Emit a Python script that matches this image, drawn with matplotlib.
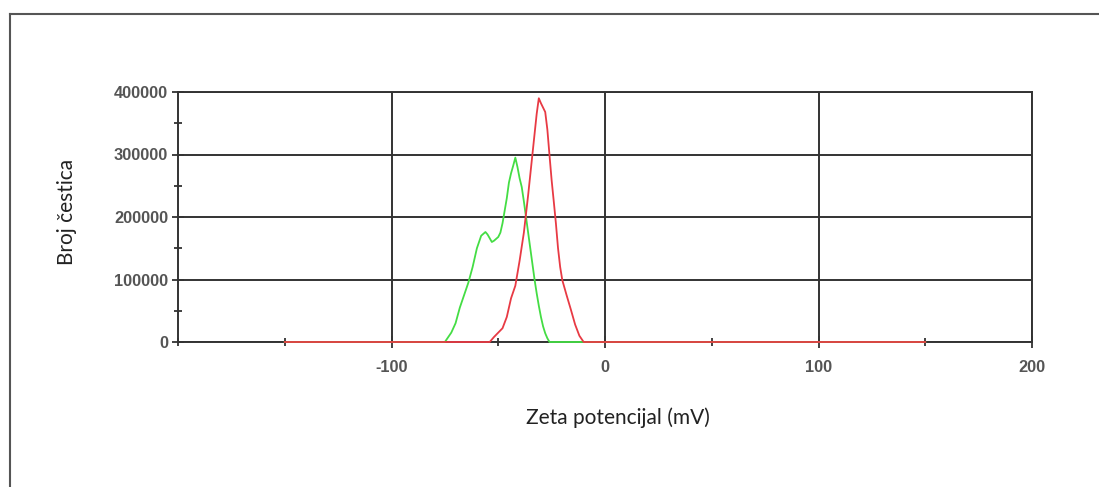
import matplotlib.pyplot as plt
from matplotlib.ticker import MultipleLocator, FixedLocator
from matplotlib.lines import Line2D

plt.rcParams['font.family'] = ['Liberation Sans', 'DejaVu Sans']

# zeta potential distributions (mV vs particle count)
red_x = [-150, -54, -53, -52, -50, -48, -46, -44, -42, -40, -38, -36, -34, -32,
         -31, -30, -28, -27, -26, -25, -24, -23, -22, -21, -20, -18, -16, -14,
         -12, -10, 150]
red_y = [0, 0, 4000, 8000, 15000, 22000, 40000, 70000, 90000, 130000, 175000,
         235000, 300000, 365000, 390000, 382000, 368000, 340000, 299000, 259000,
         225000, 190000, 150000, 120000, 99000, 75000, 52000, 28000, 10000, 0, 0]

green_x = [-150, -75, -72, -70, -68, -66, -64, -62, -60, -58, -56, -55, -54, -53,
           -52, -50, -49, -48, -46, -45, -44, -43, -42, -41, -40, -39, -38, -37,
           -36, -35, -34, -33, -32, -31, -30, -29, -28, -27, -26, 150]
green_y = [0, 0, 15000, 30000, 55000, 75000, 95000, 120000, 150000, 170000,
           176000, 172000, 166000, 160000, 162000, 168000, 175000, 190000, 230000,
           255000, 270000, 282000, 295000, 280000, 262000, 248000, 225000, 200000,
           175000, 150000, 125000, 100000, 78000, 58000, 40000, 25000, 14000, 6000,
           0, 0]

x_ticks = [-100, 0, 100, 200]
y_ticks = [0, 100000, 200000, 300000, 400000]

fig = plt.figure(figsize=(10.99, 4.87), dpi=100)
ax = fig.add_axes([178/1099, 1 - 342/487, 854/1099, 250/487])

ax.plot(green_x, green_y, color='#44dd44', lw=1.3, zorder=5, clip_on=False)
ax.plot(red_x, red_y, color='#e83a44', lw=1.3, zorder=6, clip_on=False)

ax.set_xlim(-200, 200)
ax.set_ylim(0, 400000)
ax.xaxis.set_major_locator(FixedLocator(x_ticks))
ax.yaxis.set_major_locator(FixedLocator(y_ticks))
ax.xaxis.set_minor_locator(MultipleLocator(50))
ax.yaxis.set_minor_locator(MultipleLocator(50000))
ax.set_xticklabels([str(t) for t in x_ticks], fontweight='bold')
ax.set_yticklabels([str(t) for t in y_ticks], fontweight='bold')

ax.grid(True, which='major', color='#333333', lw=1.4, zorder=1)
for s in ax.spines.values():
    s.set_color('#333333')
    s.set_linewidth(1.4)
ax.tick_params(which='both', direction='inout', color='#333333', width=1.3)
ax.tick_params(which='major', length=8, labelsize=11.8, labelcolor='#555555')
ax.tick_params(axis='x', which='major', pad=9)
ax.tick_params(axis='y', which='major', pad=3)
ax.tick_params(which='minor', length=6)

ax.set_xlabel('Zeta potencijal (mV)', family='Lato', fontsize=15, color='#222222', va='top')
ax.xaxis.set_label_coords(0.515, -0.262)
ax.set_ylabel('Broj čestica', family='Lato', fontsize=15, color='#222222')
ax.yaxis.set_label_coords(-0.118, 0.52)

# outer frame (only top and left edges visible)
fig.add_artist(Line2D([10/1099, 10/1099], [0, 1 - 14/487], transform=fig.transFigure, color='#555555', lw=1.5))
fig.add_artist(Line2D([10/1099, 1], [1 - 14/487, 1 - 14/487], transform=fig.transFigure, color='#555555', lw=1.5))

fig.savefig('out.png', dpi=100)
